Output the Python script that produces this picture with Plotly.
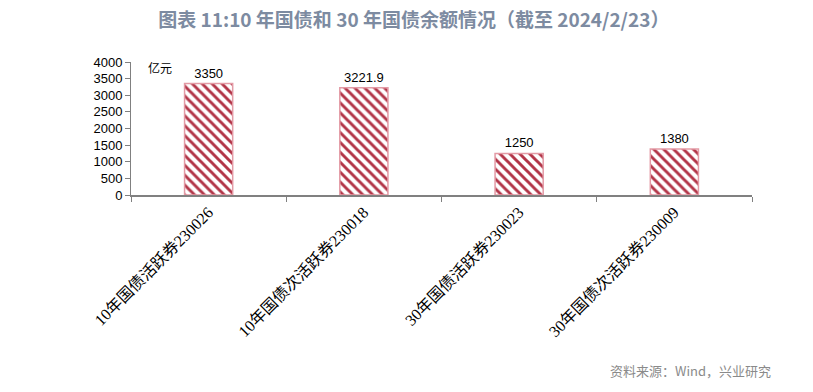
import plotly.graph_objects as go

categories = ["10年国债活跃券230026", "10年国债次活跃券230018", "30年国债活跃券230023", "30年国债次活跃券230009"]
values = [3350, 3221.9, 1250, 1380]
value_labels = ["3350", "3221.9", "1250", "1380"]

fig = go.Figure()
fig.add_trace(go.Bar(
    x=categories, y=values, text=value_labels, textposition="outside",
    textfont=dict(family="Liberation Sans, Arial", size=13, color="#000000"),
    cliponaxis=False,
    width=0.31,
    marker=dict(
        color="#ffffff",
        line=dict(color="#e39aa5", width=1.5),
        pattern=dict(shape="\\", fgcolor="#b23447", bgcolor="#ffffff", fgopacity=1,
                     size=7, solidity=0.42),
    ),
))

fig.update_layout(
    width=813, height=392,
    margin=dict(l=131, r=61, t=62, b=197),
    paper_bgcolor="#ffffff", plot_bgcolor="#ffffff",
    showlegend=False,
    title=dict(text="<b>图表 11:10 年国债和 30 年国债余额情况（截至 2024/2/23）</b>",
               x=0.509, xanchor="center", y=0.949, yanchor="middle",
               font=dict(family="Noto Sans CJK SC", size=19, color="#7d8ba1")),
    xaxis=dict(
        tickangle=-45, tickson="boundaries", ticks="outside", ticklen=5,
        tickcolor="#808080", showline=True, linecolor="#808080", linewidth=1.5,
        tickfont=dict(family="Liberation Serif, Noto Sans CJK SC", size=16, color="#000000"),
        showgrid=False,
    ),
    yaxis=dict(
        range=[0, 4000], dtick=500, ticks="outside", ticklen=5,
        tickcolor="#808080", showline=True, linecolor="#808080", linewidth=1,
        tickfont=dict(family="Liberation Sans, Arial", size=13, color="#000000"),
        showgrid=False, zeroline=False,
    ),
    annotations=[
        dict(text="亿元", xref="paper", yref="paper", x=0.047, y=0.962, xanchor="center",
             yanchor="middle", showarrow=False,
             font=dict(family="Noto Sans CJK SC", size=12, color="#000000")),
        dict(text="资料来源：Wind，兴业研究", xref="paper", yref="paper", x=0.768, y=-1.323,
             xanchor="left", yanchor="middle", showarrow=False,
             font=dict(family="Noto Sans CJK SC", size=13, color="#8a8a8a")),
    ],
)

fig.write_html("out.html")
